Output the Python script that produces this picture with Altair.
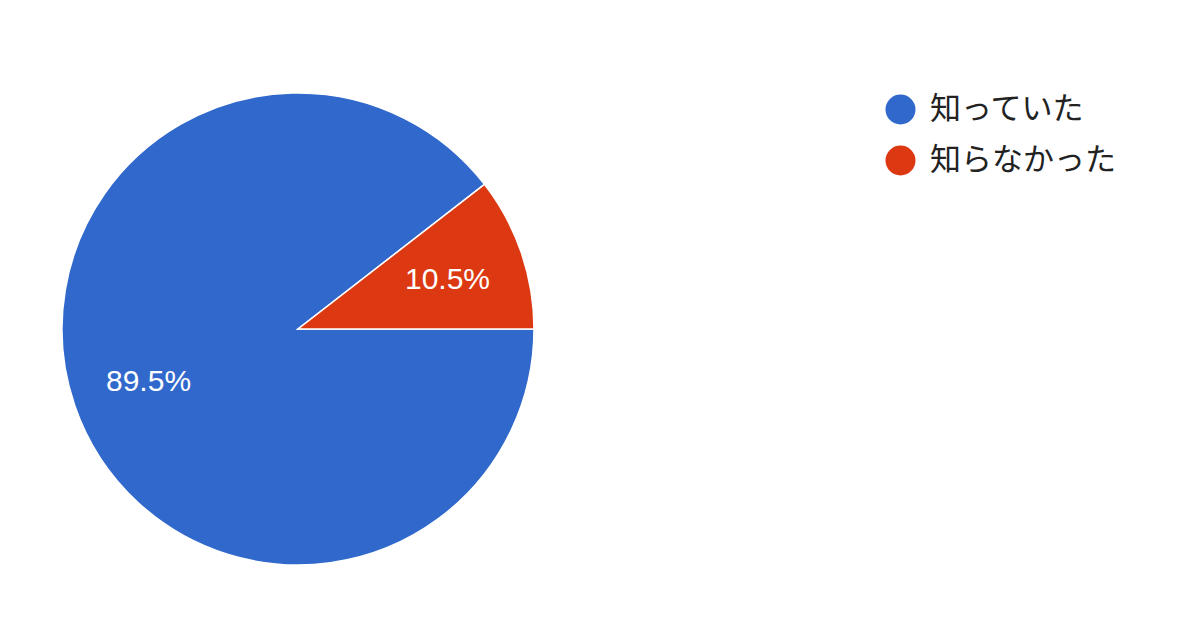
import altair as alt
import pandas as pd

categories = ["知っていた", "知らなかった"]
values = [89.5, 10.5]
labels = ["89.5%", "10.5%"]
colors = ["#3068CB", "#DC3912"]

df = pd.DataFrame({"answer": categories, "value": values, "label": labels,
                   "order": [0, 1]})

theta = alt.Theta("value:Q", stack=True,
                  scale=alt.Scale(range=[1.5707963, 1.5707963 + 6.2831853]))
color = alt.Color("answer:N",
                  scale=alt.Scale(domain=categories, range=colors),
                  sort=categories,
                  legend=alt.Legend(title=None, orient="none",
                                    legendX=877, legendY=55,
                                    symbolType="circle", symbolSize=900,
                                    symbolStrokeWidth=0, symbolOpacity=1,
                                    labelFont="Noto Sans CJK JP",
                                    labelFontSize=31, labelColor="#222222",
                                    labelOffset=14, rowPadding=19,
                                    labelLimit=400))

base = alt.Chart(df).encode(
    theta=theta,
    order=alt.Order("order:Q"),
)

pie = base.mark_arc(outerRadius=236, stroke="white", strokeWidth=1.5).encode(color=color)
text = base.mark_text(radius=158, fontSize=30, font="Liberation Sans",
                      color="white", dy=2).encode(text="label:N")

chart = (pie + text).properties(
    width=580, height=580,
    autosize=alt.AutoSizeParams(type="none"),
    padding={"left": 0, "top": 31, "right": 604, "bottom": 0},
).configure_view(stroke=None).configure(background="white")

chart.save("out.html", embed_options={"renderer": "svg", "actions": False})
